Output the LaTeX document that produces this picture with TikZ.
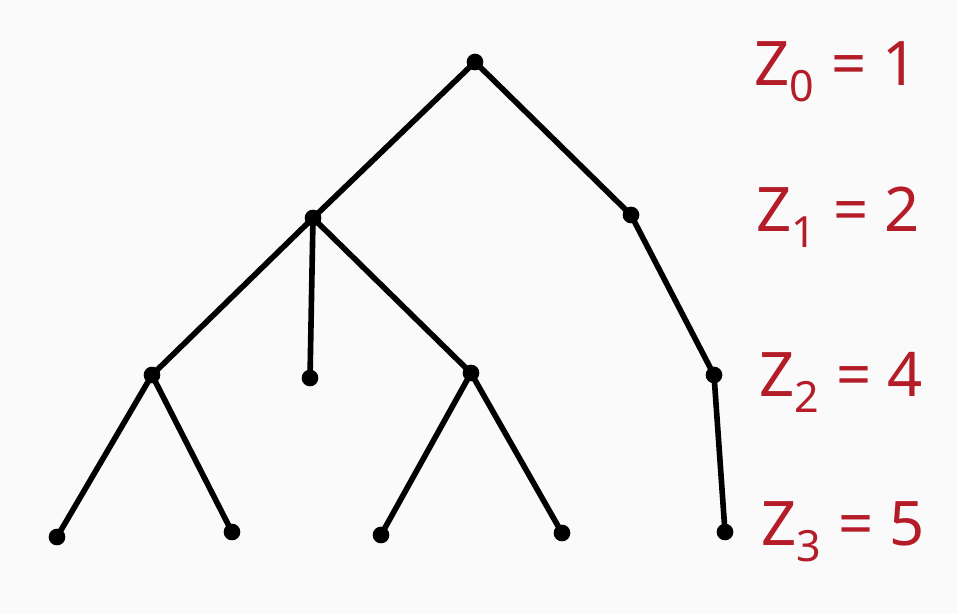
\documentclass[tikz,border=0pt]{standalone}
\usepackage{fontspec}
\newfontfamily\handfont{Noto Sans}
\definecolor{zred}{RGB}{180,28,40}
\definecolor{paper}{RGB}{250,250,250}
\usetikzlibrary{positioning}

\begin{document}
\begin{tikzpicture}[x=0.02cm,y=-0.02cm,
  vtx/.style={circle,fill=black,inner sep=0pt,minimum size=9.5pt},
  edge/.style={line width=3.2pt,line cap=round},
  zlabel/.style={text=zred,font=\handfont\fontsize{35}{38}\selectfont,anchor=center}]
\fill[paper] (0,0) rectangle (957,614);
\useasboundingbox (0,0) rectangle (957,614);
% vertices, generation by generation
\node[vtx] (r) at (475,62) {};
\node[vtx] (a) at (313,218) {};
\node[vtx] (b) at (631,215) {};
\node[vtx] (aa) at (152,375) {};
\node[vtx] (ab) at (310,378) {};
\node[vtx] (ac) at (471,373) {};
\node[vtx] (ba) at (714,375) {};
\node[vtx] (aaa) at (57,537) {};
\node[vtx] (aab) at (232,532) {};
\node[vtx] (aca) at (381,535) {};
\node[vtx] (acb) at (562,533) {};
\node[vtx] (baa) at (725,532) {};
% branches
\draw[edge] (r.center) -- (a.center);
\draw[edge] (r.center) -- (b.center);
\draw[edge] (a.center) -- (aa.center);
\draw[edge] (a.center) -- (ab.center);
\draw[edge] (a.center) -- (ac.center);
\draw[edge] (b.center) -- (ba.center);
\draw[edge] (aa.center) -- (aaa.center);
\draw[edge] (aa.center) -- (aab.center);
\draw[edge] (ac.center) -- (aca.center);
\draw[edge] (ac.center) -- (acb.center);
\draw[edge] (ba.center) -- (baa.center);
% generation sizes
\node[zlabel] (z0) at (836,72) {Z\textsubscript{0} = 1};
\node[zlabel] (z1) at (838,217) {Z\textsubscript{1} = 2};
\node[zlabel] (z2) at (841,382) {Z\textsubscript{2} = 4};
\node[zlabel] (z3) at (843,532) {Z\textsubscript{3} = 5};
\end{tikzpicture}
\end{document}
